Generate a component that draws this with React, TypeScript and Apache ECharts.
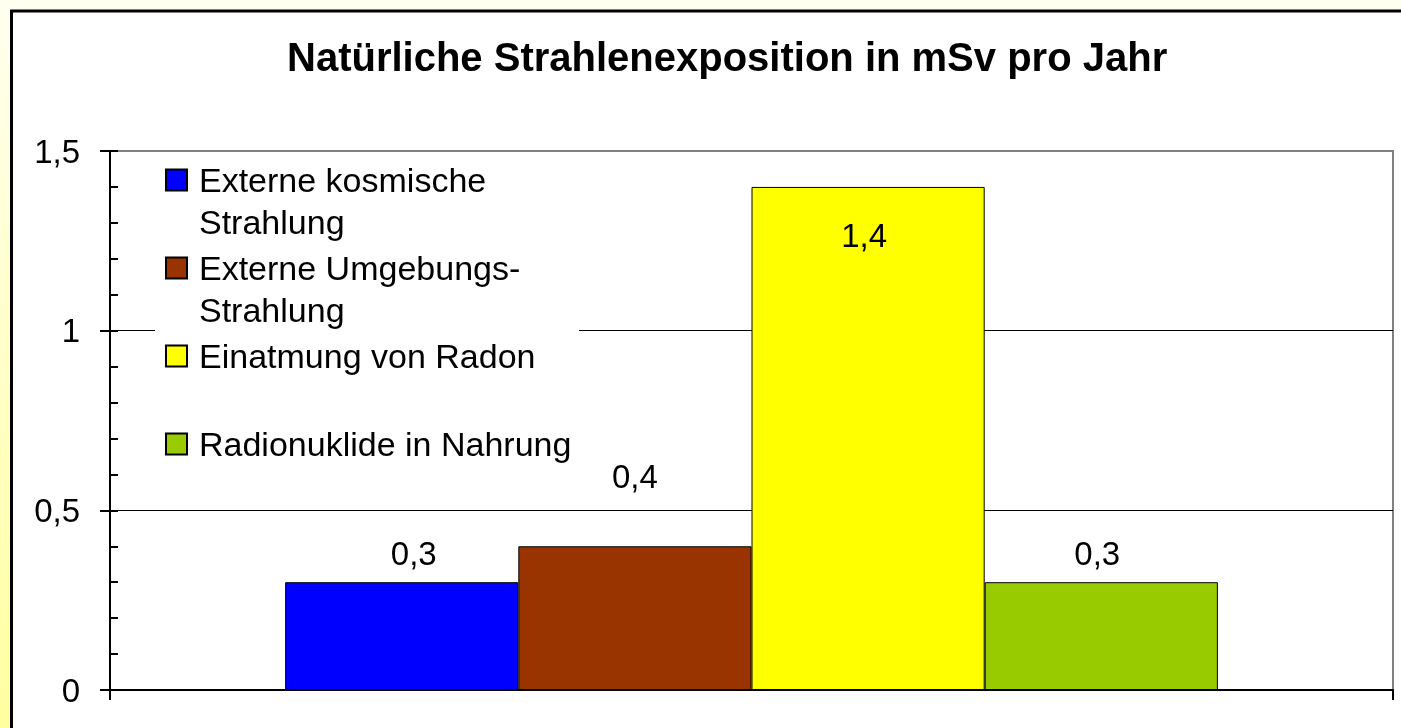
import React, { useEffect, useRef } from 'react';
import * as echarts from 'echarts';

const titleText = 'Natürliche Strahlenexposition in mSv pro Jahr';
const categories = ['Natürliche Strahlenexposition'];
const seriesNames = [
  'Externe kosmische\nStrahlung',
  'Externe Umgebungs-\nStrahlung',
  'Einatmung von Radon',
  'Radionuklide in Nahrung',
];
const seriesValues = [0.3, 0.4, 1.4, 0.3];
const seriesColors = ['#0000FF', '#993300', '#FFFF00', '#99CC00'];
const yTicks = [0, 0.5, 1, 1.5];
const labelPlacement = [
  { position: 'top', distance: 12, offset: [12, 0] },
  { position: 'top', distance: 53, offset: [0, 0] },
  { position: 'insideTop', distance: 32, offset: [-4, 0] },
  { position: 'top', distance: 12, offset: [-4, 0] },
];

const FONT = '"Liberation Sans", Arial, sans-serif';
const fmt = (v: number) => String(v).replace('.', ',');

export default function App() {
  const ref = useRef<HTMLDivElement>(null);
  useEffect(() => {
    if (!ref.current) return;
    const chart = echarts.init(ref.current, undefined, { renderer: 'svg' });
    const yMin = yTicks[0];
    const yMax = yTicks[yTicks.length - 1];
    const yInt = yTicks[1] - yTicks[0];
    chart.setOption({
      animation: false,
      title: {
        text: titleText,
        left: 287,
        top: 37,
        padding: 0,
        textStyle: { fontFamily: FONT, fontSize: 40, fontWeight: 'bold', color: '#000', lineHeight: 40 },
      },
      graphic: {
        elements: [
          {
            type: 'rect',
            z: -20,
            silent: true,
            shape: { x: 0, y: 0, width: 1401, height: 728 },
            style: {
              fill: {
                type: 'linear', x: 0, y: 0, x2: 0, y2: 1,
                colorStops: [
                  { offset: 0, color: '#FFFFF0' },
                  { offset: 1, color: '#FFFFA0' },
                ],
              },
            },
          },
          {
            type: 'rect',
            z: -10,
            silent: true,
            shape: { x: 11.5, y: 11, width: 1500, height: 1000 },
            style: { fill: '#FFFFFF', stroke: '#000000', lineWidth: 3 },
          },
          {
            type: 'rect',
            z: 2,
            silent: true,
            shape: { x: 155, y: 154, width: 424, height: 344 },
            style: { fill: '#FFFFFF' },
          },
        ],
      },
      legend: {
        orient: 'vertical',
        left: 165,
        top: 117,
        padding: 0,
        itemGap: -38,
        itemWidth: 21,
        itemHeight: 21,
        icon: 'rect',
        selectedMode: false,
        data: seriesNames,
        formatter: (name: string) => '\n' + name + (name.indexOf('\n') >= 0 ? '' : '\n '),
        textStyle: { fontFamily: FONT, fontSize: 34, lineHeight: 42, color: '#000', padding: [0, 0, 0, 7] },
      },
      grid: {
        left: 110,
        right: 8,
        top: 151,
        bottom: 38,
        show: true,
        borderColor: '#808080',
        borderWidth: 2,
        backgroundColor: 'transparent',
      },
      xAxis: {
        type: 'category',
        data: categories,
        axisLine: { lineStyle: { color: '#000', width: 2 } },
        axisTick: { show: true, length: 10, lineStyle: { color: '#000', width: 2 } },
        axisLabel: { show: false },
        splitLine: { show: false },
      },
      yAxis: [
        {
          type: 'value',
          position: 'left',
          min: yMin,
          max: yMax,
          interval: yInt,
          axisLine: { show: true, lineStyle: { color: '#000', width: 2 } },
          axisTick: { show: true, inside: true, length: 8, lineStyle: { color: '#000', width: 2 } },
          minorTick: { show: true, splitNumber: 5, length: 8, lineStyle: { color: '#000', width: 2 } },
          axisLabel: {
            margin: 30,
            formatter: (v: number) => fmt(v),
            fontFamily: FONT,
            fontSize: 33,
            color: '#000',
          },
          splitLine: {
            show: true,
            showMinLine: false,
            showMaxLine: false,
            lineStyle: { color: '#000', width: 1 },
          },
        },
        {
          type: 'value',
          position: 'left',
          min: yMin,
          max: yMax,
          interval: yInt,
          axisLine: { show: false },
          axisTick: { show: true, inside: false, length: 10, lineStyle: { color: '#000', width: 2 } },
          axisLabel: { show: false },
          splitLine: { show: false },
        },
      ],
      series: seriesNames.map((name, i) => ({
        type: 'bar',
        name,
        yAxisIndex: 0,
        data: [seriesValues[i]],
        barGap: '0%',
        barCategoryGap: '27.3%',
        itemStyle: { color: seriesColors[i], borderColor: '#000', borderWidth: 1 },
        label: {
          show: true,
          ...labelPlacement[i],
          formatter: (p: any) => fmt(p.value),
          fontFamily: FONT,
          fontSize: 33,
          color: '#000',
        },
        emphasis: { disabled: true },
      })),
    });
    return () => chart.dispose();
  }, []);
  return (
    <div
      ref={ref}
      style={{ position: 'fixed', left: 0, top: 0, width: 1401, height: 728 }}
    />
  );
}
